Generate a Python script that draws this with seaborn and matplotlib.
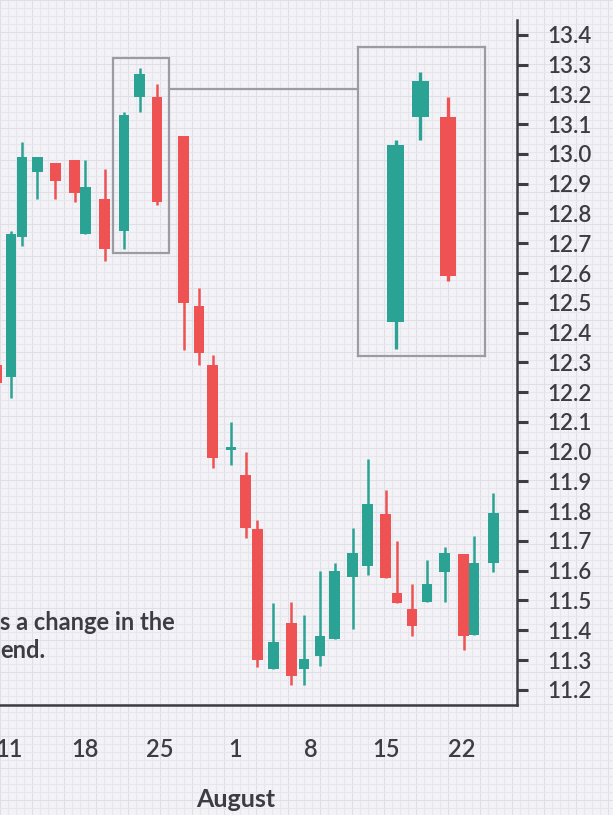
import matplotlib
matplotlib.use("Agg")
import matplotlib.pyplot as plt
import seaborn as sns
import numpy as np
import pandas as pd
from matplotlib.patches import Rectangle

# ---- data (day offsets from July 11, OHLC) ----
day = [-1.1, 0.19, 1.21, 2.64, 4.31, 6.09, 7.09, 8.87, 10.66, 12.10, 13.72,
       16.18, 17.62, 18.87, 20.58, 21.93, 23.04, 24.52, 26.19, 27.35, 28.83,
       30.18, 31.85, 33.24, 34.91, 35.97, 37.36, 38.75, 40.38, 42.14, 43.11, 44.92]
open_ = [12.29, 12.25, 12.72, 12.94, 12.97, 12.98, 12.73, 12.85, 12.74, 13.19, 13.19,
         13.06, 12.49, 12.29, 12.005, 11.92, 11.74, 11.27, 11.425, 11.27, 11.315,
         11.37, 11.58, 11.615, 11.79, 11.525, 11.47, 11.495, 11.595, 11.655, 11.385, 11.625]
high = [12.30, 12.74, 13.04, 12.99, 12.97, 12.98, 12.98, 12.95, 13.14, 13.29, 13.235,
        13.06, 12.55, 12.325, 12.10, 12.00, 11.77, 11.49, 11.495, 11.45, 11.60,
        11.625, 11.745, 11.975, 11.87, 11.70, 11.555, 11.635, 11.68, 11.655, 11.715, 11.86]
low = [12.20, 12.18, 12.69, 12.85, 12.85, 12.84, 12.73, 12.64, 12.68, 13.14, 12.83,
       12.34, 12.29, 11.945, 11.955, 11.71, 11.275, 11.27, 11.215, 11.215, 11.28,
       11.37, 11.405, 11.585, 11.575, 11.49, 11.38, 11.495, 11.495, 11.335, 11.385, 11.595]
close = [12.23, 12.73, 12.99, 12.99, 12.91, 12.87, 12.89, 12.68, 13.13, 13.27, 12.84,
         12.50, 12.33, 11.98, 12.015, 11.745, 11.30, 11.36, 11.245, 11.305, 11.38,
         11.60, 11.66, 11.825, 11.575, 11.49, 11.415, 11.555, 11.66, 11.38, 11.625, 11.795]

zoom_idx = [8, 9, 10]  # candles highlighted in the inset

xtick_pos = [0, 7, 14, 21, 28, 35, 42]
xtick_labels = ["11", "18", "25", "1", "8", "15", "22"]
ytick_vals = [11.2, 11.3, 11.4, 11.5, 11.6, 11.7, 11.8, 11.9, 12.0, 12.1, 12.2, 12.3,
              12.4, 12.5, 12.6, 12.7, 12.8, 12.9, 13.0, 13.1, 13.2, 13.3, 13.4]
month_label = "August"
note_lines = ["s a change in the", "end."]

df = pd.DataFrame({"day": day, "open": open_, "high": high, "low": low, "close": close})
df["up"] = df["close"] >= df["open"]

GREEN = "#2ba394"
RED = "#ee5253"
INK = "#3c3c42"
BOXC = "#9c9ba3"
BG = "#f3f2f6"

sns.set_theme(style="white")
plt.rcParams["font.family"] = ["Lato", "DejaVu Sans"]

fig = plt.figure(figsize=(6.13, 8.15), dpi=100)
fig.patch.set_facecolor(BG)

# background paper grid
bg = fig.add_axes([0, 0, 1, 1], zorder=-5)
bg.set_xlim(0, 613)
bg.set_ylim(815, 0)
bg.axis("off")
for i, v in enumerate(np.arange(0, 614, 8.0)):
    bg.axvline(v, color="#e7e6ec" if i % 4 else "#e0dfe6", lw=0.75, zorder=0)
for i, v in enumerate(np.arange(0, 816, 8.0)):
    bg.axhline(v, color="#e7e6ec" if i % 4 else "#e0dfe6", lw=0.75, zorder=0)


def draw_candles(ax, d, body_w=0.97, wick_lw=1.8):
    colors = [GREEN if u else RED for u in d["up"]]
    ax.vlines(d["day"], d["low"], d["high"], colors=colors, lw=wick_lw, zorder=3)
    bottoms = np.minimum(d["open"], d["close"])
    heights = np.maximum(np.abs(d["close"] - d["open"]), 0.006)
    ax.bar(d["day"], heights, bottom=bottoms, width=body_w, color=colors,
           edgecolor="none", zorder=4)


# main axes
ax = fig.add_axes([0.0, 0.135, 0.8434, 0.8405])
ax.set_facecolor("none")
draw_candles(ax, df)
ax.set_xlim(-0.834, 47.1)
ax.set_ylim(11.149, 13.45)

for s in ["top", "left"]:
    ax.spines[s].set_visible(False)
for s in ["right", "bottom"]:
    ax.spines[s].set_color(INK)
    ax.spines[s].set_linewidth(1.8)
ax.yaxis.tick_right()
ax.set_yticks(ytick_vals)
ax.set_yticklabels([f"{v:.1f}" for v in ytick_vals])
ax.set_xticks(xtick_pos)
ax.set_xticklabels(xtick_labels)
ax.tick_params(axis="y", direction="out", length=8, width=2.2, color=INK, pad=14,
               labelsize=16, labelcolor=INK, right=True, left=False)
ax.tick_params(axis="x", direction="out", length=9, width=2.2, color=INK, pad=15,
               labelsize=17, labelcolor=INK)
for lab in ax.get_xticklabels() + ax.get_yticklabels():
    lab.set_fontweight("semibold")

ax.text(21, -95 / 685, month_label, transform=ax.get_xaxis_transform(), ha="center",
        va="center", fontsize=18, color=INK, fontweight="bold")

# highlight box around the three candles and connector to inset
ax.add_patch(Rectangle((9.64, 12.668), 14.83 - 9.64, 13.323 - 12.668, fill=False,
                       edgecolor=BOXC, lw=1.6, zorder=5))
ax.plot([14.83, 32.36], [13.219, 13.219], color=BOXC, lw=1.6, zorder=5)

# annotation text (cut off at left in the original)
fig.text(0.0, 1 - 623 / 815, note_lines[0], ha="left", va="center", fontsize=17,
         color=INK, fontweight="bold")
fig.text(0.0, 1 - 651 / 815, note_lines[1], ha="left", va="center", fontsize=17,
         color=INK, fontweight="bold")

# inset with enlarged candles
axi = fig.add_axes([358 / 613, 1 - 356 / 815, 127 / 613, 309 / 815])
axi.set_facecolor("none")
draw_candles(axi, df.iloc[zoom_idx], body_w=0.97, wick_lw=2.4)
axi.set_xlim(8.47, 15.88)
axi.set_ylim(12.665, 13.345)
axi.set_xticks([])
axi.set_yticks([])
for s in axi.spines.values():
    s.set_color(BOXC)
    s.set_linewidth(1.6)

fig.savefig("out.png", dpi=100, facecolor=BG)
